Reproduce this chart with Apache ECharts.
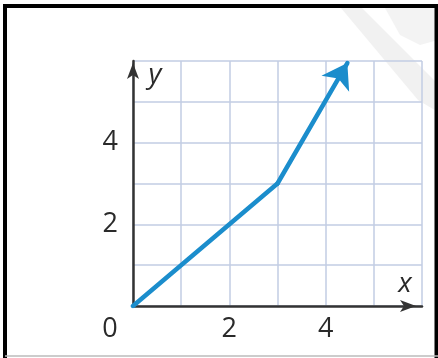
<!DOCTYPE html>
<html>
<head>
<meta charset="utf-8">
<script src="https://cdn.jsdelivr.net/npm/echarts@6/dist/echarts.min.js"></script>
<style>
html,body{margin:0;padding:0;background:#fff;}
#c{width:438px;height:358px;}
</style>
</head>
<body>
<div id="c"></div>
<script>
// data
var xLabels = [0, 2, 4];
var yLabels = [2, 4];
var lineX = [0, 3, 4.45];
var lineY = [0, 3, 5.95];

var pts = lineX.map(function (x, i) { return [x, lineY[i]]; });
var n = pts.length;
var bodySegs = [];
for (var i = 0; i < n - 2; i++) bodySegs.push({ coords: [pts[i], pts[i + 1]] });
var headSeg = [{ coords: [pts[n - 2], pts[n - 1]] }];

var chart = echarts.init(document.getElementById('c'));
var font = '"Open Sans", "Noto Sans", sans-serif';
var lineStyle = { color: '#1b8dcc', width: 4.5, opacity: 1, cap: 'round', join: 'round' };
chart.setOption({
  animation: false,
  backgroundColor: '#fff',
  grid: { left: 133, right: 16, top: 61, bottom: 52 },
  xAxis: {
    type: 'value', min: 0, max: 6, interval: 1,
    name: 'x', nameLocation: 'end', nameGap: -17,
    nameTextStyle: { fontSize: 28, fontStyle: 'italic', color: '#2a2a2a', fontFamily: font,
      align: 'center', verticalAlign: 'bottom', padding: [0, 0, 8, 0] },
    axisLine: { show: true, onZero: false, lineStyle: { color: '#333', width: 2.5 },
      symbol: ['none', 'arrow'], symbolSize: [9, 16], symbolOffset: [0, -6] },
    axisTick: { show: false },
    splitLine: { show: true, lineStyle: { color: '#c2cde3', width: 1.5 } },
    axisLabel: {
      margin: 10, color: '#2a2a2a', fontSize: 27, fontFamily: font,
      showMaxLabel: true, showMinLabel: true,
      formatter: function (v) {
        if (xLabels.indexOf(v) < 0) return '';
        return v === 0 ? '{z|0}' : String(v);
      },
      rich: { z: { fontSize: 27, fontFamily: font, color: '#2a2a2a', padding: [0, 46, 0, 0] } }
    }
  },
  yAxis: {
    type: 'value', min: 0, max: 6, interval: 1,
    name: 'y', nameLocation: 'end', nameGap: -14,
    nameTextStyle: { fontSize: 28, fontStyle: 'italic', color: '#2a2a2a', fontFamily: font,
      align: 'center', verticalAlign: 'middle', padding: [0, 0, 0, 44] },
    axisLine: { show: true, onZero: false, lineStyle: { color: '#333', width: 2.5 },
      symbol: ['none', 'arrow'], symbolSize: [9, 16], symbolOffset: [0, -2] },
    axisTick: { show: false },
    splitLine: { show: true, lineStyle: { color: '#c2cde3', width: 1.5 } },
    axisLabel: {
      margin: 15, color: '#2a2a2a', fontSize: 27, fontFamily: font,
      formatter: function (v) { return yLabels.indexOf(v) >= 0 ? String(v) : ''; }
    }
  },
  series: [{
    type: 'lines',
    coordinateSystem: 'cartesian2d',
    symbol: ['none', 'none'],
    lineStyle: lineStyle,
    z: 5,
    data: bodySegs
  }, {
    type: 'lines',
    coordinateSystem: 'cartesian2d',
    symbol: ['none', 'arrow'],
    symbolSize: [16, 24],
    lineStyle: lineStyle,
    z: 5,
    data: headSeg
  }],
  graphic: [
    { type: 'polygon', z: -10, silent: true,
      shape: { points: [[341, 8], [362, 8], [438, 84], [438, 112], [418, 100]] },
      style: { fill: '#f1f1f1' } },
    { type: 'polygon', z: -10, silent: true,
      shape: { points: [[385, 8], [438, 8], [438, 40], [420, 45], [400, 35]] },
      style: { fill: '#f3f3f3' } },
    { type: 'polyline', z: 100, silent: true,
      shape: { points: [[5, 358], [5, 6], [436.5, 6], [436.5, 358]] },
      style: { stroke: '#000', lineWidth: 4, fill: null } },
    { type: 'line', z: 100, silent: true,
      shape: { x1: 5, y1: 356, x2: 438, y2: 356 },
      style: { stroke: '#bbb', lineWidth: 1.5 } }
  ]
});
</script>
</body>
</html>
